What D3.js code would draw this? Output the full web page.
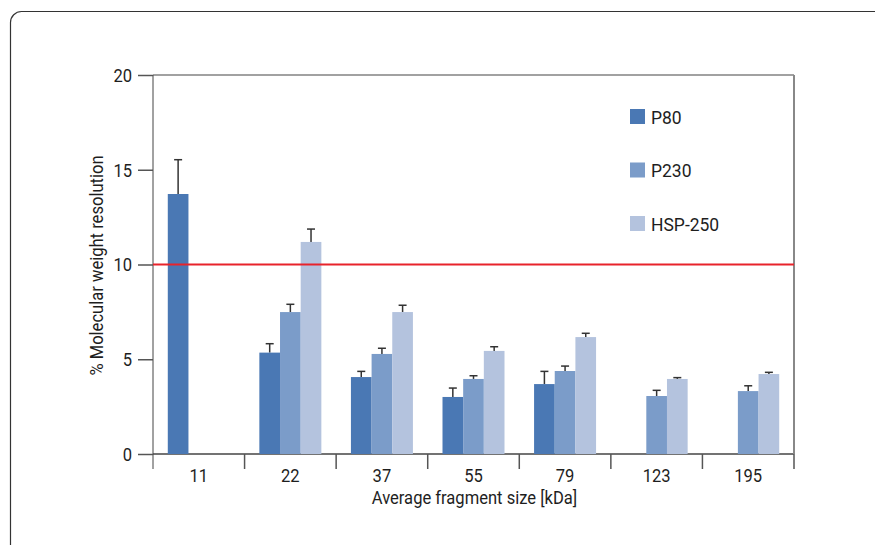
<!DOCTYPE html>
<html lang="en">
  <head>
    <meta charset="UTF-8" />
    <title>Molecular weight resolution</title>
    <script src="https://d3js.org/d3.v7.min.js"></script>
    <style>
      body {
        margin: 0;
        background: white;
      }
      text {
        font-family: "Roboto", "Liberation Sans", sans-serif;
        font-size: 18px;
        fill: #1e1e1e;
      }
      .leg text {
        font-size: 19px;
      }
    </style>
  </head>
  <body>
    <svg id="chart" width="875" height="545"></svg>
    <script>
      // Data
      const categories = ["11", "22", "37", "55", "79", "123", "195"];
      const seriesNames = ["P80", "P230", "HSP-250"];
      const seriesColors = ["#4a78b4", "#7b9cc9", "#b4c3de"];
      // null = no bar for that size
      const p80 = [13.72, 5.35, 4.06, 3.01, 3.69, null, null];
      const p80Err = [1.81, 0.47, 0.3, 0.47, 0.67, null, null];
      const p230 = [null, 7.49, 5.28, 3.96, 4.38, 3.06, 3.32];
      const p230Err = [null, 0.41, 0.3, 0.17, 0.26, 0.3, 0.28];
      const hsp = [null, 11.19, 7.49, 5.44, 6.17, 3.96, 4.22];
      const hspErr = [null, 0.68, 0.36, 0.22, 0.2, 0.07, 0.09];
      const yTicks = [0, 5, 10, 15, 20];
      const limit = 10;

      const values = [p80, p230, hsp];
      const errors = [p80Err, p230Err, hspErr];

      const svg = d3.select("#chart");
      const margin = { left: 153, top: 75, right: 794, bottom: 454 };

      // squeeze text horizontally to mimic the condensed face of the original
      function condense(sel, k) {
        sel.each(function () {
          const w = this.getComputedTextLength();
          d3.select(this).attr("textLength", w * k).attr("lengthAdjust", "spacingAndGlyphs");
        });
      }

      // outer frame with rounded corner
      svg
        .append("rect")
        .attr("x", 10.5)
        .attr("y", 11.5)
        .attr("width", 1000)
        .attr("height", 700)
        .attr("rx", 11)
        .attr("fill", "none")
        .attr("stroke", "#333")
        .attr("stroke-width", 1.2);

      const x = d3.scaleBand().domain(categories).range([margin.left, margin.right]);
      const xInner = d3.scaleBand().domain(seriesNames).range([0, 62]).paddingInner(0);
      const y = d3.scaleLinear().domain([0, 20]).range([margin.bottom, margin.top]);

      // y axis
      const yAxis = svg
        .append("g")
        .attr("transform", `translate(${margin.left},0)`)
        .call(d3.axisLeft(y).tickValues(yTicks).tickSize(15).tickPadding(6));
      yAxis.attr("font-family", null).attr("font-size", null);
      yAxis.select(".domain").attr("stroke", "#444").attr("d", `M0,${margin.top}V${margin.bottom + 15}`);
      yAxis.selectAll(".tick line").attr("stroke", "#555").attr("stroke-width", 1.5);
      yAxis.selectAll(".tick text").attr("fill", "#1e1e1e").attr("dy", "0.36em");

      // top line at 20
      svg
        .append("line")
        .attr("x1", margin.left)
        .attr("x2", margin.right)
        .attr("y1", y(20))
        .attr("y2", y(20))
        .attr("stroke", "#444")
        .attr("stroke-width", 1.2);

      // x axis baseline
      svg
        .append("line")
        .attr("x1", margin.left)
        .attr("x2", margin.right)
        .attr("y1", y(0))
        .attr("y2", y(0))
        .attr("stroke", "#444")
        .attr("stroke-width", 1.5);

      // right gray border
      svg
        .append("line")
        .attr("x1", margin.right)
        .attr("x2", margin.right)
        .attr("y1", y(20))
        .attr("y2", y(0))
        .attr("stroke", "#888")
        .attr("stroke-width", 2);

      // category separators
      const bounds = categories.map((c) => x(c)).concat([margin.right]);
      svg
        .selectAll(".sep")
        .data(bounds.slice(1))
        .enter()
        .append("line")
        .attr("class", "sep")
        .attr("x1", (d) => d)
        .attr("x2", (d) => d)
        .attr("y1", y(0))
        .attr("y2", y(0) + 15)
        .attr("stroke", "#555")
        .attr("stroke-width", 1.5);

      // category labels
      svg
        .selectAll(".cat")
        .data(categories)
        .enter()
        .append("text")
        .attr("class", "cat")
        .attr("x", (d) => x(d) + x.bandwidth() / 2)
        .attr("y", y(0) + 28)
        .attr("text-anchor", "middle")
        .text((d) => d);

      // bars
      const group = svg
        .selectAll(".grp")
        .data(categories)
        .enter()
        .append("g")
        .attr("class", "grp")
        .attr("transform", (d) => `translate(${x(d) + x.bandwidth() / 2 - 31},0)`);

      seriesNames.forEach((s, si) => {
        group.each(function (c, ci) {
          const v = values[si][ci];
          if (v == null) return;
          const e = errors[si][ci];
          const g = d3.select(this);
          const cx = xInner(s) + xInner.bandwidth() / 2;
          g.append("line")
            .attr("x1", cx)
            .attr("x2", cx)
            .attr("y1", y(v))
            .attr("y2", y(v + e))
            .attr("stroke", "#333")
            .attr("stroke-width", 1.5);
          g.append("line")
            .attr("x1", cx - 4)
            .attr("x2", cx + 4)
            .attr("y1", y(v + e))
            .attr("y2", y(v + e))
            .attr("stroke", "#333")
            .attr("stroke-width", 1.5);
          g.append("rect")
            .attr("x", xInner(s))
            .attr("width", xInner.bandwidth())
            .attr("y", y(v))
            .attr("height", y(0) - y(v))
            .attr("fill", seriesColors[si]);
        });
      });

      // red 10% line
      svg
        .append("line")
        .attr("x1", margin.left)
        .attr("x2", margin.right)
        .attr("y1", y(limit))
        .attr("y2", y(limit))
        .attr("stroke", "#e8232b")
        .attr("stroke-width", 2);

      // legend
      const legend = svg
        .selectAll(".leg")
        .data(seriesNames)
        .enter()
        .append("g")
        .attr("class", "leg")
        .attr("transform", (d, i) => `translate(630,${109 + i * 53.5})`);
      legend
        .append("rect")
        .attr("width", 15)
        .attr("height", 15)
        .attr("fill", (d, i) => seriesColors[i]);
      legend
        .append("text")
        .attr("x", 21)
        .attr("y", 14.5)
        .text((d) => d);

      // axis titles
      svg
        .append("text")
        .attr("transform", `translate(103,${(margin.top + margin.bottom) / 2 + 1}) rotate(-90)`)
        .attr("text-anchor", "middle")
        .text("% Molecular weight resolution");

      svg
        .append("text")
        .attr("x", (margin.left + margin.right) / 2 + 1)
        .attr("y", 504)
        .attr("text-anchor", "middle")
        .text("Average fragment size [kDa]");

      condense(svg.selectAll("text"), 0.92);
    </script>
  </body>
</html>
